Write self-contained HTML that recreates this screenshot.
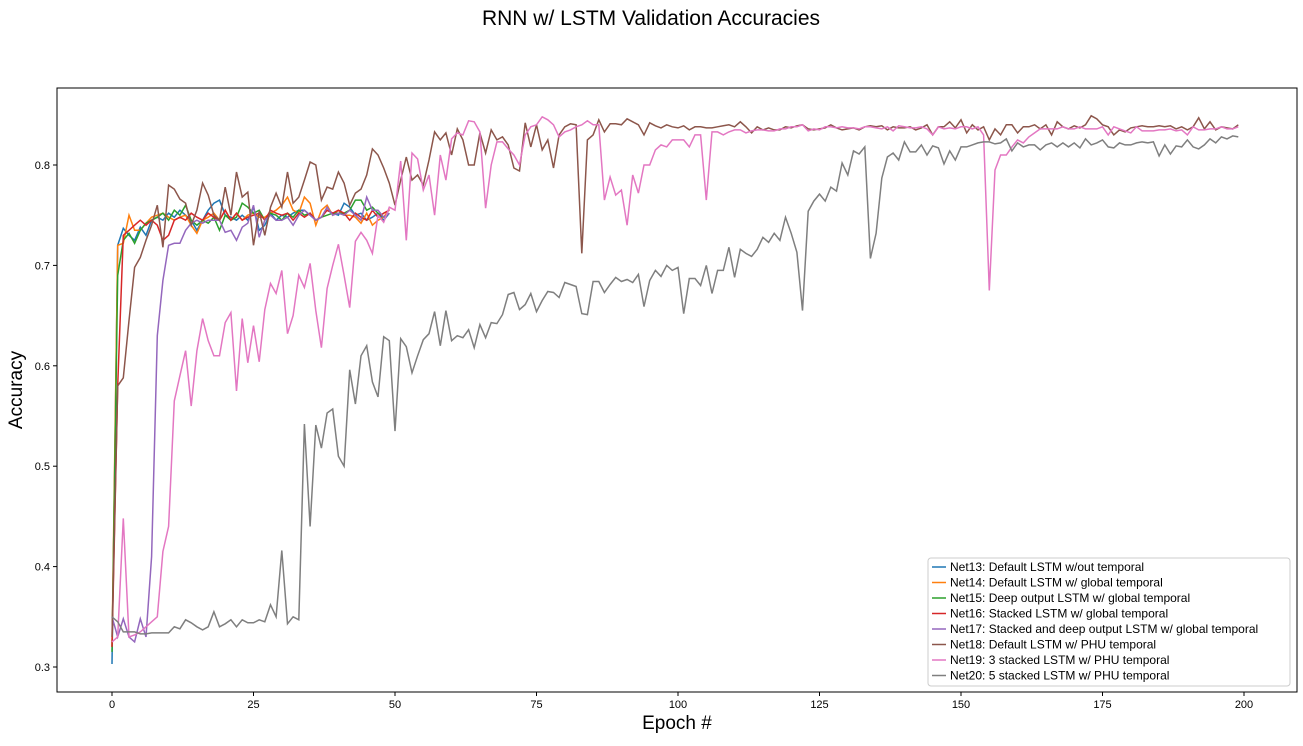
<!DOCTYPE html>
<html><head><meta charset="utf-8"><style>
body{margin:0;background:#fff;font-family:"Liberation Sans","DejaVu Sans",sans-serif}
svg text{font-family:"Liberation Sans","DejaVu Sans",sans-serif}
</style></head><body>
<svg id="chart" width="1303" height="741" xmlns="http://www.w3.org/2000/svg">
<text x="651" y="25" font-size="21" text-anchor="middle">RNN w/ LSTM Validation Accuracies</text>
<g id="axes"></g>
<g id="lines"></g>
<rect x="57" y="88" width="1240" height="604" fill="none" stroke="#000" stroke-width="1"/>
<text x="677" y="729" font-size="19" text-anchor="middle">Epoch #</text>
<text transform="translate(22,390) rotate(-90)" font-size="19" text-anchor="middle">Accuracy</text>
<g id="legend"></g>
</svg>
<script>
const xTicks=[0,25,50,75,100,125,150,175,200];
const yTicks=[0.3,0.4,0.5,0.6,0.7,0.8];
const seriesNames=["Net13: Default LSTM w/out temporal","Net14: Default LSTM w/ global temporal","Net15: Deep output LSTM w/ global temporal","Net16: Stacked LSTM w/ global temporal","Net17: Stacked and deep output LSTM w/ global temporal","Net18: Default LSTM w/ PHU temporal","Net19: 3 stacked LSTM w/ PHU temporal","Net20: 5 stacked LSTM w/ PHU temporal"];
const seriesColors=["#1f77b4","#ff7f0e","#2ca02c","#d62728","#9467bd","#8c564b","#e377c2","#7f7f7f"];
const net13=[0.303,0.72,0.737,0.73,0.725,0.738,0.73,0.745,0.748,0.745,0.752,0.748,0.755,0.75,0.745,0.735,0.745,0.755,0.762,0.765,0.75,0.748,0.745,0.75,0.745,0.758,0.735,0.74,0.752,0.745,0.75,0.748,0.752,0.755,0.755,0.75,0.745,0.748,0.755,0.752,0.75,0.762,0.758,0.75,0.752,0.745,0.748,0.752,0.745,0.752];
const net14=[0.32,0.72,0.722,0.75,0.735,0.735,0.742,0.748,0.75,0.752,0.748,0.745,0.748,0.75,0.74,0.732,0.745,0.748,0.752,0.745,0.755,0.745,0.752,0.745,0.75,0.752,0.748,0.748,0.752,0.755,0.76,0.768,0.755,0.752,0.768,0.762,0.74,0.755,0.76,0.75,0.755,0.75,0.75,0.748,0.742,0.752,0.74,0.745,0.748,0.756];
const net15=[0.315,0.69,0.725,0.732,0.722,0.735,0.742,0.745,0.748,0.752,0.745,0.755,0.75,0.76,0.745,0.74,0.745,0.742,0.748,0.735,0.75,0.745,0.748,0.762,0.758,0.752,0.755,0.745,0.752,0.75,0.745,0.752,0.748,0.755,0.75,0.752,0.745,0.748,0.75,0.752,0.752,0.752,0.755,0.765,0.765,0.755,0.758,0.752,0.748,0.752];
const net16=[0.32,0.58,0.73,0.735,0.74,0.745,0.74,0.745,0.74,0.725,0.73,0.745,0.748,0.745,0.752,0.748,0.745,0.752,0.748,0.745,0.755,0.745,0.752,0.745,0.748,0.75,0.752,0.745,0.755,0.752,0.75,0.752,0.745,0.752,0.748,0.752,0.745,0.748,0.755,0.752,0.755,0.752,0.745,0.752,0.748,0.745,0.755,0.748,0.752,0.755];
const net17=[0.35,0.33,0.348,0.33,0.325,0.348,0.33,0.41,0.63,0.685,0.72,0.722,0.722,0.735,0.742,0.745,0.742,0.745,0.745,0.745,0.733,0.735,0.725,0.738,0.742,0.76,0.728,0.745,0.75,0.745,0.745,0.748,0.74,0.75,0.755,0.75,0.745,0.748,0.758,0.75,0.752,0.75,0.755,0.75,0.745,0.768,0.755,0.755,0.748,0.752];
const net18=[0.33,0.58,0.588,0.645,0.698,0.708,0.725,0.74,0.76,0.718,0.78,0.776,0.766,0.762,0.74,0.755,0.782,0.77,0.75,0.745,0.778,0.75,0.793,0.768,0.773,0.72,0.754,0.73,0.758,0.772,0.758,0.793,0.762,0.768,0.785,0.803,0.8,0.765,0.778,0.776,0.793,0.782,0.76,0.772,0.776,0.79,0.816,0.81,0.797,0.782,0.76,0.785,0.808,0.785,0.79,0.78,0.805,0.833,0.825,0.832,0.81,0.836,0.825,0.8,0.8,0.832,0.812,0.835,0.825,0.828,0.82,0.797,0.794,0.842,0.818,0.84,0.815,0.825,0.797,0.83,0.838,0.841,0.84,0.712,0.825,0.83,0.845,0.833,0.841,0.841,0.84,0.846,0.843,0.84,0.83,0.842,0.839,0.837,0.84,0.838,0.837,0.839,0.835,0.838,0.838,0.837,0.837,0.838,0.839,0.84,0.838,0.843,0.838,0.832,0.838,0.835,0.837,0.835,0.835,0.838,0.837,0.839,0.84,0.836,0.835,0.836,0.837,0.84,0.837,0.835,0.836,0.837,0.835,0.838,0.839,0.838,0.839,0.835,0.838,0.837,0.837,0.838,0.835,0.837,0.84,0.83,0.838,0.838,0.843,0.837,0.845,0.832,0.84,0.835,0.838,0.825,0.836,0.83,0.84,0.84,0.832,0.838,0.838,0.84,0.836,0.84,0.83,0.843,0.838,0.836,0.839,0.837,0.84,0.849,0.846,0.84,0.838,0.83,0.835,0.833,0.837,0.838,0.839,0.838,0.838,0.839,0.838,0.839,0.836,0.838,0.835,0.838,0.847,0.836,0.843,0.835,0.838,0.837,0.836,0.84];
const net19=[0.325,0.33,0.448,0.33,0.332,0.335,0.34,0.345,0.35,0.415,0.44,0.565,0.59,0.615,0.56,0.615,0.647,0.625,0.61,0.61,0.643,0.653,0.575,0.647,0.603,0.64,0.604,0.656,0.682,0.672,0.695,0.632,0.65,0.69,0.678,0.702,0.655,0.618,0.677,0.7,0.721,0.69,0.658,0.724,0.733,0.725,0.712,0.75,0.743,0.758,0.755,0.804,0.725,0.812,0.806,0.775,0.79,0.75,0.81,0.785,0.826,0.832,0.83,0.844,0.843,0.833,0.757,0.8,0.823,0.823,0.816,0.81,0.8,0.83,0.838,0.84,0.848,0.845,0.84,0.828,0.833,0.835,0.838,0.84,0.844,0.84,0.84,0.765,0.788,0.77,0.775,0.74,0.79,0.772,0.8,0.8,0.815,0.82,0.818,0.825,0.825,0.825,0.818,0.83,0.83,0.765,0.833,0.833,0.83,0.833,0.835,0.835,0.832,0.834,0.835,0.835,0.834,0.834,0.836,0.836,0.838,0.838,0.84,0.834,0.836,0.835,0.838,0.838,0.837,0.838,0.837,0.837,0.836,0.838,0.838,0.837,0.836,0.838,0.834,0.839,0.838,0.837,0.837,0.838,0.836,0.83,0.838,0.836,0.837,0.836,0.838,0.838,0.836,0.838,0.83,0.675,0.795,0.81,0.81,0.818,0.825,0.822,0.828,0.832,0.836,0.836,0.836,0.836,0.838,0.836,0.836,0.838,0.836,0.836,0.836,0.838,0.83,0.838,0.836,0.834,0.832,0.838,0.834,0.834,0.834,0.835,0.835,0.836,0.834,0.835,0.83,0.838,0.835,0.835,0.836,0.836,0.838,0.836,0.836,0.838];
const net20=[0.35,0.345,0.335,0.335,0.335,0.333,0.333,0.334,0.334,0.334,0.334,0.34,0.338,0.347,0.344,0.34,0.337,0.34,0.355,0.34,0.343,0.347,0.34,0.347,0.344,0.344,0.347,0.345,0.362,0.35,0.416,0.343,0.35,0.347,0.542,0.44,0.541,0.518,0.553,0.557,0.51,0.5,0.596,0.562,0.61,0.62,0.584,0.569,0.629,0.625,0.535,0.627,0.619,0.593,0.61,0.626,0.632,0.654,0.62,0.655,0.625,0.63,0.628,0.636,0.618,0.641,0.628,0.643,0.642,0.651,0.671,0.673,0.656,0.661,0.672,0.654,0.665,0.674,0.673,0.668,0.683,0.681,0.679,0.652,0.651,0.684,0.684,0.673,0.681,0.688,0.684,0.686,0.683,0.691,0.659,0.685,0.695,0.689,0.7,0.695,0.698,0.652,0.687,0.687,0.68,0.7,0.672,0.695,0.695,0.718,0.688,0.716,0.712,0.709,0.716,0.728,0.723,0.732,0.725,0.748,0.732,0.713,0.655,0.754,0.764,0.771,0.764,0.778,0.774,0.802,0.79,0.814,0.811,0.818,0.707,0.732,0.787,0.808,0.812,0.805,0.823,0.813,0.813,0.82,0.81,0.819,0.817,0.801,0.814,0.805,0.818,0.818,0.82,0.822,0.823,0.823,0.821,0.822,0.826,0.814,0.822,0.818,0.82,0.82,0.815,0.82,0.822,0.818,0.822,0.818,0.822,0.817,0.826,0.82,0.822,0.825,0.818,0.817,0.822,0.82,0.82,0.822,0.823,0.822,0.823,0.809,0.82,0.811,0.819,0.818,0.825,0.818,0.816,0.82,0.826,0.822,0.828,0.826,0.829,0.828];
const allSeries=[net13,net14,net15,net16,net17,net18,net19,net20];

const NS="http://www.w3.org/2000/svg";
const x=v=>112+(v-0)*(1244-112)/200;
const y=v=>667-(v-0.3)*1004;
function mk(tag,parent){const e=document.createElementNS(NS,tag);parent.appendChild(e);return e;}
const axes=document.getElementById('axes');
xTicks.forEach(t=>{
  const l=mk('line',axes);l.setAttribute('x1',x(t));l.setAttribute('x2',x(t));l.setAttribute('y1',692);l.setAttribute('y2',696);l.setAttribute('stroke','#000');
  
  
  const tx=mk('text',axes);tx.setAttribute('x',x(t));tx.setAttribute('y',708);tx.setAttribute('font-size','11');tx.setAttribute('text-anchor','middle');tx.textContent=t;
  
  
});
yTicks.forEach(t=>{
  const l=mk('line',axes);l.setAttribute('x1',53);l.setAttribute('x2',57);l.setAttribute('y1',y(t));l.setAttribute('y2',y(t));l.setAttribute('stroke','#000');
  
  
  const tx=mk('text',axes);tx.setAttribute('x',50);tx.setAttribute('y',y(t)+4);tx.setAttribute('font-size','11');tx.setAttribute('text-anchor','end');tx.textContent=t.toFixed(1);
  
  
});
const lines=document.getElementById('lines');
allSeries.forEach((s,i)=>{
  const p=mk('polyline',lines);
  p.setAttribute('points',s.map((v,k)=>x(k).toFixed(1)+','+y(v).toFixed(1)).join(' '));
  p.setAttribute('fill','none');p.setAttribute('stroke',seriesColors[i]);p.setAttribute('stroke-width','1.5');
  
  
});
const lg=document.getElementById('legend');
const box=mk('rect',lg);box.setAttribute('x',928);box.setAttribute('y',558);box.setAttribute('width',362);box.setAttribute('height',128);box.setAttribute('fill','#fff');box.setAttribute('stroke','#ccc');box.setAttribute('rx','3');


seriesNames.forEach((n,i)=>{
  const yy=567+i*15.5;
  const l=mk('line',lg);l.setAttribute('x1',932);l.setAttribute('x2',946);l.setAttribute('y1',yy);l.setAttribute('y2',yy);l.setAttribute('stroke',seriesColors[i]);l.setAttribute('stroke-width','1.5');
  
  
  const t=mk('text',lg);t.setAttribute('x',950);t.setAttribute('y',yy+4);t.setAttribute('font-size','12');t.textContent=n;
  
  
});
</script>
</body></html>
